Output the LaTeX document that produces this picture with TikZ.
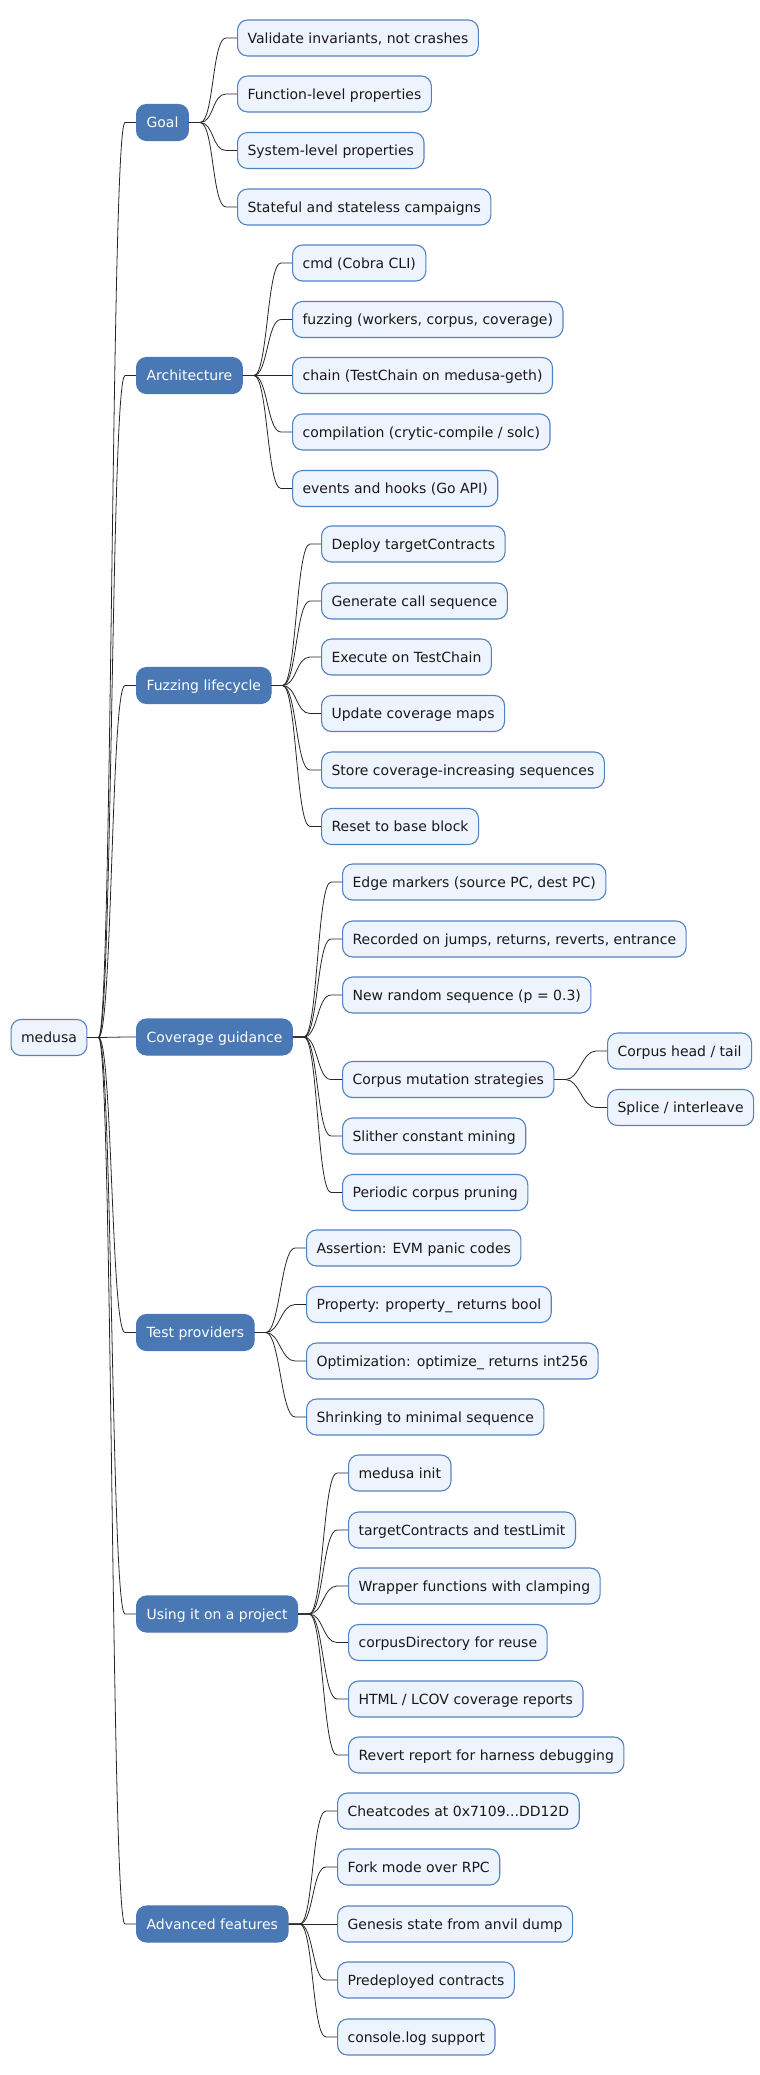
\documentclass[tikz,border=0pt]{standalone}
\usepackage{fontspec}
\setmainfont{DejaVu Sans}
\definecolor{mmblue}{HTML}{4A78B4}
\definecolor{mmleaf}{HTML}{EEF4FE}
\definecolor{mmborder}{HTML}{5382C2}
\tikzset{
  base/.style={rounded corners=10pt, minimum height=36pt, inner xsep=10pt,
    text height=13pt, text depth=3pt, font=\fontsize{14pt}{16pt}\selectfont,
    anchor=west, line width=1.1pt},
  leaf/.style={base, draw=mmborder, fill=mmleaf, text=black!90},
  topic/.style={base, draw=mmblue, fill=mmblue, text=white},
  link/.style={draw=black!85, line width=0.8pt},
}
% connector from parent to child
\newcommand{\branch}[2]{\draw[link] (#1.east) -- ++(11,0)
  .. controls +(14,0) and +(-14,0) .. ([xshift=-11pt]#2.west) -- (#2.west);}

\begin{document}
\begin{tikzpicture}[x=1pt, y=-1pt]
		\useasboundingbox (0,0) rectangle (760,2075);
		% root and main topics
		\node[leaf](root) at (10.5,1037.5) {medusa};
		\node[topic](goal) at (136,122.5) {Goal};
		\node[topic](arch) at (136,375.5) {Architecture};
		\node[topic](fuzz) at (136,685.5) {Fuzzing lifecycle};
		\node[topic](cov) at (136,1037) {Coverage guidance};
		\node[topic](tests) at (136,1332.5) {Test providers};
		\node[topic](usage) at (136,1614) {Using it on a project};
		\node[topic](adv) at (136,1924) {Advanced features};
		% goal
		\node[leaf](goal1) at (237,38) {Validate invariants, not crashes};
		\node[leaf](goal2) at (237,94) {Function-level properties};
		\node[leaf](goal3) at (237,150.5) {System-level properties};
		\node[leaf](goal4) at (237,207) {Stateful and stateless campaigns};
		% architecture
		\node[leaf](arch1) at (292,263) {cmd (Cobra CLI)};
		\node[leaf](arch2) at (292,319.5) {fuzzing (workers, corpus, coverage)};
		\node[leaf](arch3) at (292,375.5) {chain (TestChain on medusa-geth)};
		\node[leaf](arch4) at (292,432) {compilation (crytic-compile / solc)};
		\node[leaf](arch5) at (292,488.5) {events and hooks (Go API)};
		% lifecycle
		\node[leaf](fuzz1) at (321,544) {Deploy targetContracts};
		\node[leaf](fuzz2) at (321,601) {Generate call sequence};
		\node[leaf](fuzz3) at (321,657) {Execute on TestChain};
		\node[leaf](fuzz4) at (321,713.5) {Update coverage maps};
		\node[leaf](fuzz5) at (321,770) {Store coverage-increasing sequences};
		\node[leaf](fuzz6) at (321,826.5) {Reset to base block};
		% coverage
		\node[leaf](cov1) at (342,882) {Edge markers (source PC, dest PC)};
		\node[leaf](cov2) at (342,939) {Recorded on jumps, returns, reverts, entrance};
		\node[leaf](cov3) at (342,995) {New random sequence (p = 0.3)};
		\node[leaf](cov4) at (342,1079.5) {Corpus mutation strategies};
		\node[leaf](cov5) at (342,1136) {Slither constant mining};
		\node[leaf](cov6) at (342,1192.5) {Periodic corpus pruning};
		\node[leaf](mut1) at (607,1051) {Corpus head / tail};
		\node[leaf](mut2) at (607,1107.5) {Splice / interleave};
		% test providers
		\node[leaf](tests1) at (306,1248) {Assertion: EVM panic codes};
		\node[leaf](tests2) at (306,1304.5) {Property: property\_ returns bool};
		\node[leaf](tests3) at (306,1361) {Optimization: optimize\_ returns int256};
		\node[leaf](tests4) at (306,1417) {Shrinking to minimal sequence};
		% usage
		\node[leaf](usage1) at (348,1473) {medusa init};
		\node[leaf](usage2) at (348,1530) {targetContracts and testLimit};
		\node[leaf](usage3) at (348,1586) {Wrapper functions with clamping};
		\node[leaf](usage4) at (348,1642.5) {corpusDirectory for reuse};
		\node[leaf](usage5) at (348,1699) {HTML / LCOV coverage reports};
		\node[leaf](usage6) at (348,1755) {Revert report for harness debugging};
		% advanced
		\node[leaf](adv1) at (337,1811) {Cheatcodes at 0x7109...DD12D};
		\node[leaf](adv2) at (337,1867) {Fork mode over RPC};
		\node[leaf](adv3) at (337,1924) {Genesis state from anvil dump};
		\node[leaf](adv4) at (337,1980) {Predeployed contracts};
		\node[leaf](adv5) at (337,2037) {console.log support};
		% connectors
		\branch{root}{goal}\branch{root}{arch}\branch{root}{fuzz}\branch{root}{cov}
		\branch{root}{tests}\branch{root}{usage}\branch{root}{adv}
		\branch{goal}{goal1}\branch{goal}{goal2}\branch{goal}{goal3}\branch{goal}{goal4}
		\branch{arch}{arch1}\branch{arch}{arch2}\branch{arch}{arch3}\branch{arch}{arch4}\branch{arch}{arch5}
		\branch{fuzz}{fuzz1}\branch{fuzz}{fuzz2}\branch{fuzz}{fuzz3}\branch{fuzz}{fuzz4}\branch{fuzz}{fuzz5}\branch{fuzz}{fuzz6}
		\branch{cov}{cov1}\branch{cov}{cov2}\branch{cov}{cov3}\branch{cov}{cov4}\branch{cov}{cov5}\branch{cov}{cov6}
		\branch{cov4}{mut1}\branch{cov4}{mut2}
		\branch{tests}{tests1}\branch{tests}{tests2}\branch{tests}{tests3}\branch{tests}{tests4}
		\branch{usage}{usage1}\branch{usage}{usage2}\branch{usage}{usage3}\branch{usage}{usage4}\branch{usage}{usage5}\branch{usage}{usage6}
		\branch{adv}{adv1}\branch{adv}{adv2}\branch{adv}{adv3}\branch{adv}{adv4}\branch{adv}{adv5}
	    \end{tikzpicture}
\end{document}
